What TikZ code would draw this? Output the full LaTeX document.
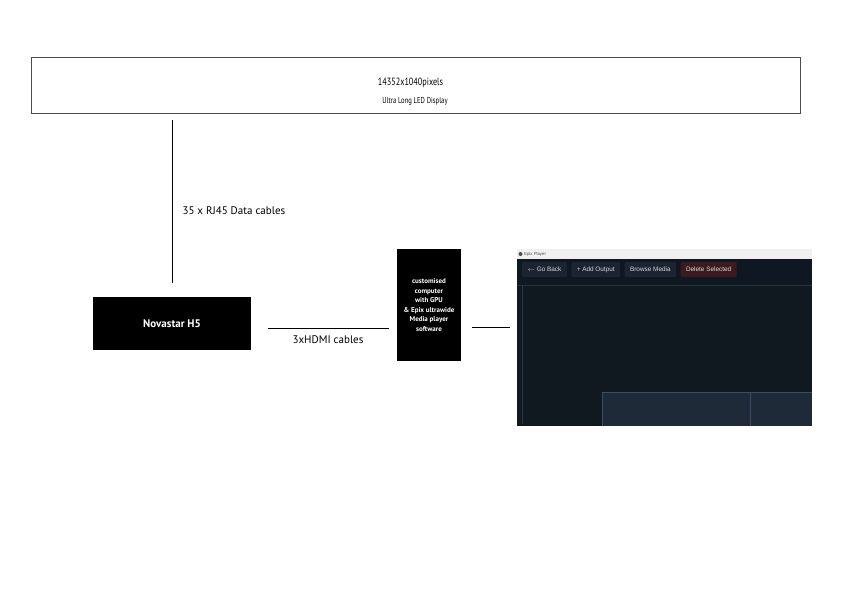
\documentclass[tikz,border=0pt]{standalone}
\usepackage{fontspec}
\setmainfont{PT Sans}
\newfontfamily\uifont{Liberation Sans}
\usetikzlibrary{positioning}

\definecolor{uibar}{HTML}{0F1722}
\definecolor{uibg}{HTML}{101820}
\definecolor{uibtn}{HTML}{1B2430}
\definecolor{uidel}{HTML}{3C1B1F}
\definecolor{uipanel}{HTML}{1F2A38}
\definecolor{uiedge}{HTML}{3A4D63}

\tikzset{
  blackbox/.style={fill=black, text=white, font=\bfseries, inner sep=0pt},
  cable/.style={draw=black, line width=0.8pt},
  uibutton/.style={fill=uibtn, text=white!85!black, font=\uifont\fontsize{6.4}{7}\selectfont,
    rounded corners=1pt, minimum height=15pt, inner xsep=5.5pt, anchor=west}
}

\begin{document}
\begin{tikzpicture}[x=1pt, y=-1pt, node distance=1cm]
\useasboundingbox (0,0) rectangle (842,595);

% display
\node (display) [draw=black!70, line width=0.8pt, minimum width=769pt, minimum height=56pt,
  inner sep=0pt] at (415.5,85) {};
\node (res) at (410.5,83) {\fontsize{10.5}{12}\selectfont\addfontfeature{FakeStretch=0.78}14352x1040pixels};
\node (disptext) at (415,101) {\fontsize{8.6}{10}\selectfont\addfontfeature{FakeStretch=0.77}Ultra Long LED Display};

% controller
\node (novastar) [blackbox, minimum width=158pt, minimum height=53pt] at (172,323.5)
  {\fontsize{11}{12}\selectfont Novastar H5};

% pc
\node (pc) [blackbox, minimum width=64pt, minimum height=112pt, align=center,
  font=\bfseries\fontsize{7}{9.6}\selectfont] at (429,305)
  {customised\\computer\\with GPU\\\& Epix ultrawide\\Media player\\software};

% player screenshot
\node (player) [fill=uibg, minimum width=295pt, minimum height=177pt, inner sep=0pt] at (664.5,337.5) {};
\fill[white!94!black] (517,249) rectangle (812,259);
\fill[uibar] (517,259) rectangle (812,282);
\fill[black!70] (520.5,254) circle (2pt);
\node (title) [anchor=west, inner sep=0pt, font=\uifont\fontsize{4.3}{5}\selectfont, text=black!70] at (524,254) {Epix Player};
\node (back) [uibutton] at (522,269.5) {$\leftarrow$ Go Back};
\node (add) [uibutton, right=4pt of back] {+ Add Output};
\node (browse) [uibutton, right=4pt of add] {Browse Media};
\node (delete) [uibutton, fill=uidel, right=4pt of browse] {Delete Selected};
\draw[uiedge!60!uibg, line width=0.6pt] (522,286) -- (522,424);
\draw[uiedge!50!uibg, line width=0.4pt] (517,285) -- (812,285);
\fill[uipanel] (602,392) rectangle (812,426);
\draw[uiedge, line width=0.6pt] (602,426) -- (602,392) -- (812,392);
\draw[uiedge, line width=0.6pt] (750,392) -- (750,426);

% cables
\draw[cable] (172,120) -- (172,283);
\node (rj45) [anchor=west] at (179,211) {\fontsize{11}{12}\selectfont 35 x RJ45 Data cables};
\draw[cable, shorten <=17pt, shorten >=8pt] (novastar.east |- 0,328) -- (pc.west |- 0,328);
\node (hdmi) at (328,340) {\fontsize{11}{12}\selectfont 3xHDMI cables};
\draw[cable, shorten <=11pt, shorten >=7pt] (pc.east |- 0,327) -- (player.west |- 0,327);
\end{tikzpicture}
\end{document}
